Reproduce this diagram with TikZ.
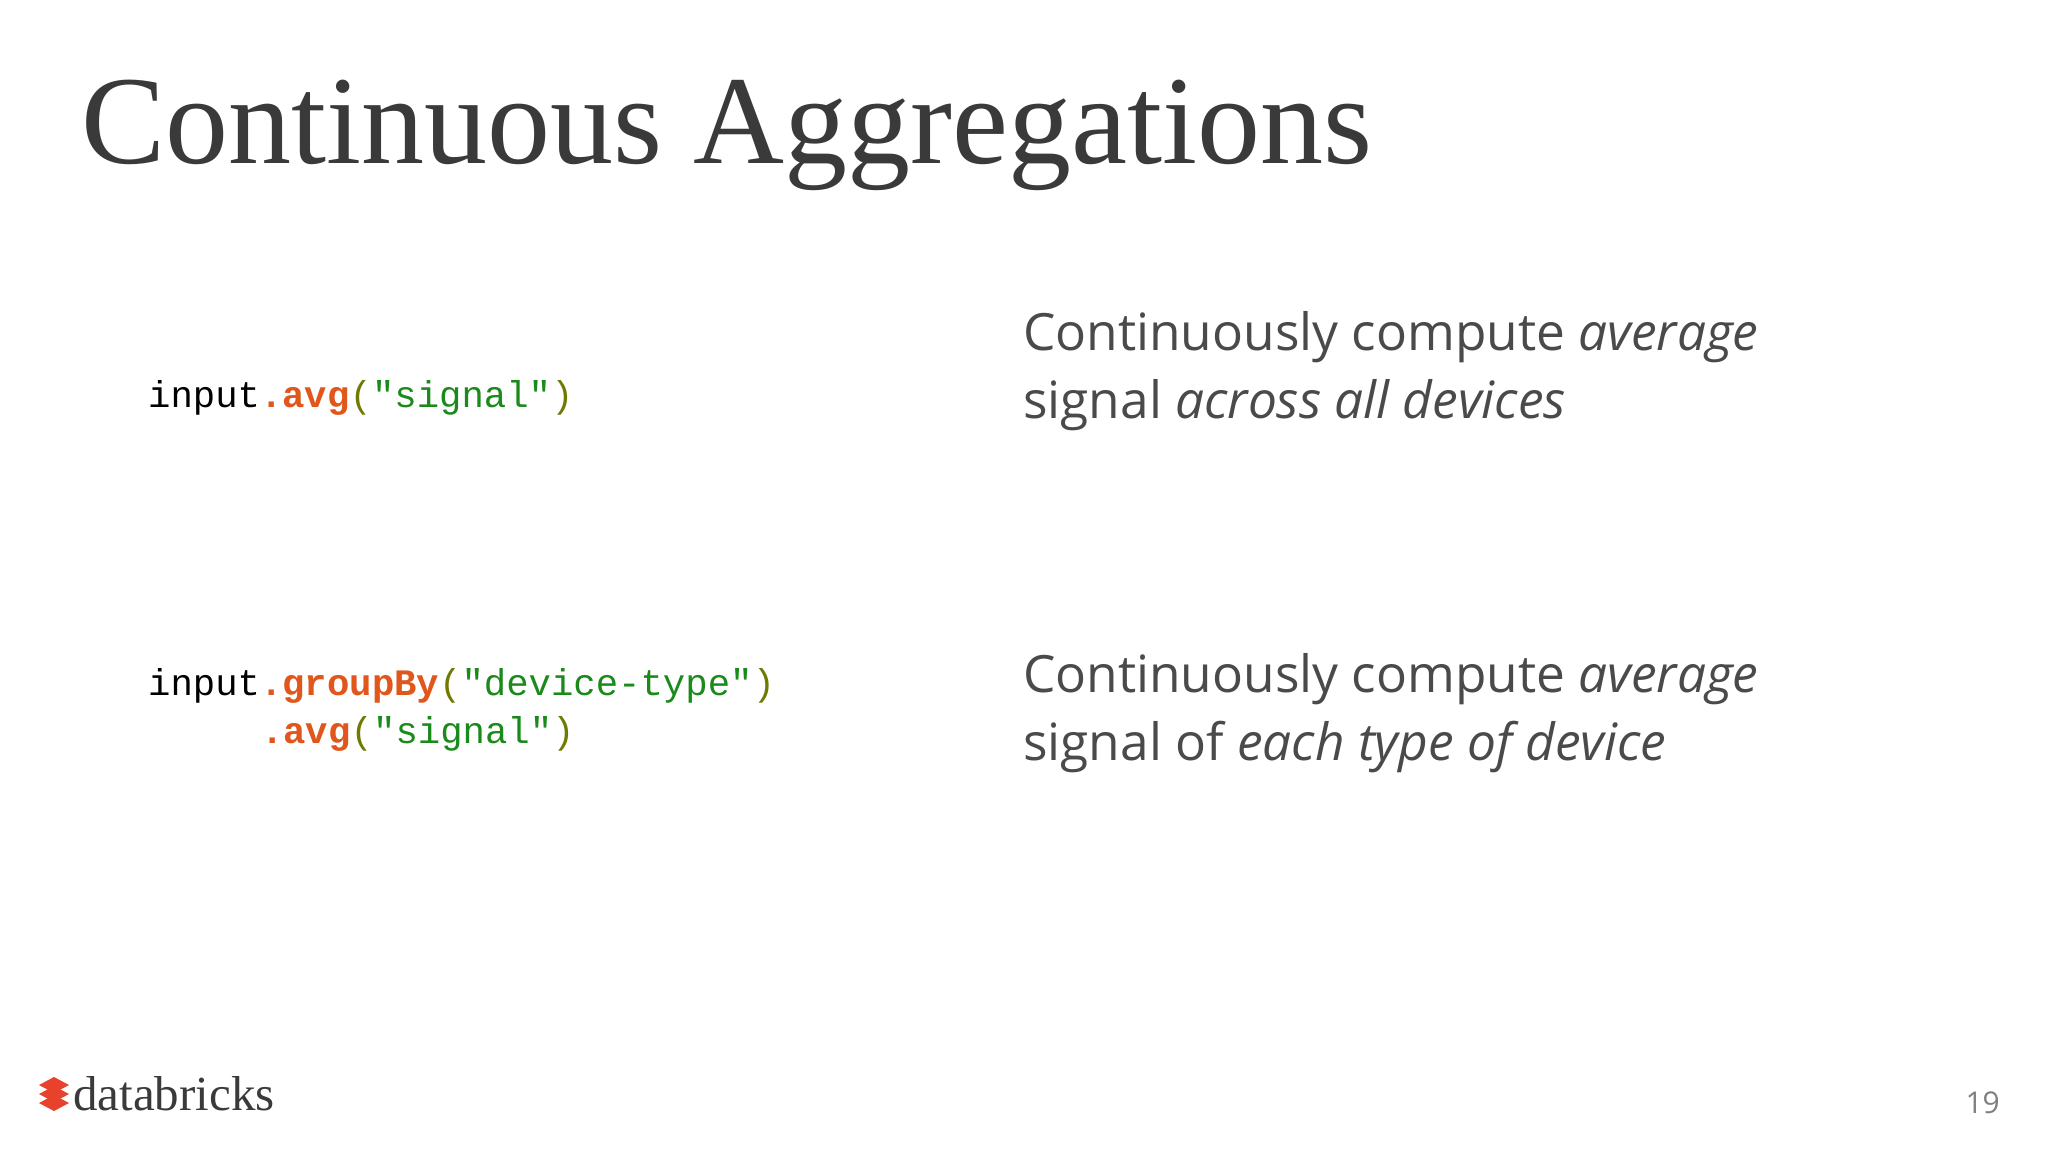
\documentclass[tikz,border=0pt]{standalone}
\usepackage{fontspec}
\setmainfont{Liberation Serif}
\newfontfamily\codef{Liberation Mono}
\newfontfamily\bodyf{Open Sans}
\definecolor{ttl}{HTML}{3A3A3A}
\definecolor{meth}{HTML}{E0561B}
\definecolor{str}{HTML}{1A8A1A}
\definecolor{par}{HTML}{6E7A00}
\definecolor{body}{HTML}{4A4A4A}
\definecolor{brick}{HTML}{E8412C}
\newcommand{\mth}[1]{\textcolor{meth}{\bfseries #1}}
\begin{document}
\begin{tikzpicture}[x=1pt,y=-1pt,
  code/.style={anchor=base west,inner sep=0,font=\codef\fontsize{37.3}{42}\selectfont},
  txt/.style={anchor=base west,inner sep=0,text=body,font=\bodyf\fontsize{51.4}{60}\selectfont}]
\useasboundingbox[fill=white] (0,0) rectangle (2048,1152);
\node[anchor=base west,inner sep=0,text=ttl,font=\fontsize{126}{140}\selectfont] (title) at (81,163) {Continuous Aggregations};
\node[code] (c1) at (148,407) {input\mth{.avg}\textcolor{par}{(}\textcolor{str}{"signal"}\textcolor{par}{)}};
\node[code] (c2) at (148,695) {input\mth{.groupBy}\textcolor{par}{(}\textcolor{str}{"device-type"}\textcolor{par}{)}};
\node[code] (c3) at (261,743) {\mth{.avg}\textcolor{par}{(}\textcolor{str}{"signal"}\textcolor{par}{)}};
\node[txt] (t1) at (1023,350) {Continuously compute \textit{average}};
\node[txt] (t2) at (1023,418) {signal \textit{across all devices}};
\node[txt] (t3) at (1023,692) {Continuously compute \textit{average}};
\node[txt] (t4) at (1023,760) {signal of \textit{each type of device}};
% logo
\foreach \dy in {0,9,18}{
  \fill[brick] (39,1085+\dy) -- (54,1077+\dy) -- (69,1085+\dy) -- (54,1093+\dy) -- cycle;}
\node[anchor=base west,inner sep=0,text=ttl,font=\fontsize{49}{52}\selectfont] (logo) at (73,1110) {databricks};
\node[anchor=base east,inner sep=0,text=gray,font=\bodyf\fontsize{30}{34}\selectfont] (pg) at (2000,1113) {19};
\end{tikzpicture}
\end{document}
